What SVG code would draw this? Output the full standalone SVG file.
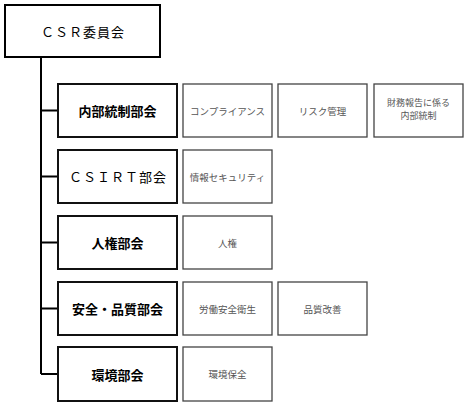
<svg xmlns="http://www.w3.org/2000/svg" width="467" height="405" viewBox="0 0 467 405">
<style>
.top{fill:#fff;stroke:#000;stroke-width:2}
.dept{fill:#fff;stroke:#111;stroke-width:2}
.sub{fill:#fff;stroke:#444;stroke-width:1.3}
.conn{stroke:#000;stroke-width:2;fill:none}
text{font-family:"Noto Sans CJK JP","Liberation Sans",sans-serif;text-anchor:middle;dominant-baseline:central}
.tt{font-size:13px;fill:#000;letter-spacing:1px}
.dt{font-size:13px;font-weight:bold;fill:#000}
.dn{font-size:13px;fill:#000;letter-spacing:1px}
.st{font-size:9.5px;fill:#555}
.st2{font-size:9px;fill:#555}
</style>
<rect width="467" height="405" fill="#fff"/>
<g id="connectors">
<path class="conn" d="M41,57 V374"/>
<path class="conn" d="M41,110.5 H58 M41,176.5 H58 M41,242.5 H58 M41,308.5 H58 M41,374 H58"/>
</g>
<g id="csr"><rect class="top" x="5" y="5" width="155" height="52"/><text class="tt" x="83" y="31">ＣＳＲ委員会</text></g>
<g id="naibu"><rect class="dept" x="58" y="84" width="119" height="53"/><text class="dt" x="117.5" y="110.5">内部統制部会</text></g>
<g id="compliance"><rect class="sub" x="183" y="84" width="89" height="53"/><text class="st" x="227.5" y="110.5">コンプライアンス</text></g>
<g id="risk"><rect class="sub" x="278" y="84" width="89" height="53"/><text class="st" x="322.5" y="110.5">リスク管理</text></g>
<g id="zaimu"><rect class="sub" x="374" y="84" width="89" height="53"/><text class="st2" x="418.5" y="102.5">財務報告に係る</text><text class="st2" x="418.5" y="115.8">内部統制</text></g>
<g id="csirt"><rect class="dept" x="58" y="150" width="119" height="53"/><text class="dn" x="118" y="176.5">ＣＳＩＲＴ部会</text></g>
<g id="infosec"><rect class="sub" x="183" y="150" width="89" height="53"/><text class="st" x="227.5" y="176.5">情報セキュリティ</text></g>
<g id="jinken"><rect class="dept" x="58" y="216" width="119" height="53"/><text class="dt" x="117.5" y="242.5">人権部会</text></g>
<g id="jinken-sub"><rect class="sub" x="183" y="216" width="89" height="53"/><text class="st" x="227.5" y="242.5">人権</text></g>
<g id="anzen"><rect class="dept" x="58" y="282" width="119" height="53"/><text class="dt" x="117.5" y="308.5">安全・品質部会</text></g>
<g id="rodo"><rect class="sub" x="183" y="282" width="89" height="53"/><text class="st" x="227.5" y="308.5">労働安全衛生</text></g>
<g id="hinshitsu"><rect class="sub" x="278" y="282" width="89" height="53"/><text class="st" x="322.5" y="308.5">品質改善</text></g>
<g id="kankyo"><rect class="dept" x="58" y="347" width="119" height="54"/><text class="dt" x="117.5" y="374">環境部会</text></g>
<g id="kankyo-sub"><rect class="sub" x="183" y="347" width="89" height="54"/><text class="st" x="227.5" y="374">環境保全</text></g>
</svg>
